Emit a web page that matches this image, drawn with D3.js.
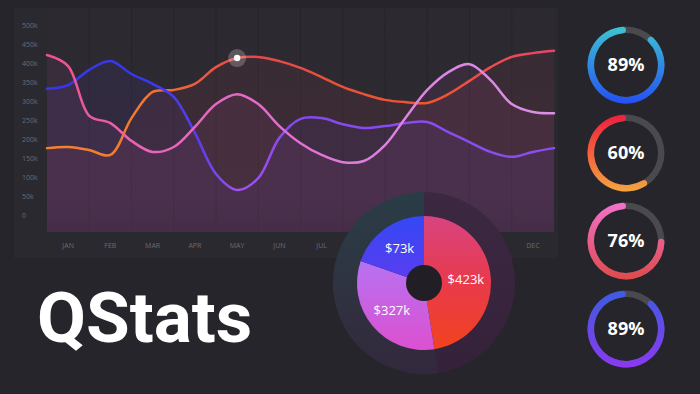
<!DOCTYPE html>
<html>
<head>
<meta charset="utf-8">
<script src="https://cdn.jsdelivr.net/npm/d3@7"></script>
<style>
  html, body { margin: 0; padding: 0; background: #26252b; }
  svg { display: block; }
</style>
</head>
<body>
<div id="chart"></div>
<script>
// months on the x axis
const months = ['JAN', 'FEB', 'MAR', 'APR', 'MAY', 'JUN', 'JUL', 'AUG', 'SEP', 'OCT', 'NOV', 'DEC'];
const yTicks = [0, 50, 100, 150, 200, 250, 300, 350, 400, 450, 500];

// series values (k), read every half month from the left edge to the right edge
const redValues = [176, 179, 171, 158, 255, 324, 329, 345, 389, 413, 416, 405, 387,
    363, 337, 318, 303, 297, 295, 318, 353, 389, 416, 426, 432];
const blueValues = [332, 342, 382, 405, 371, 345, 311, 216, 108, 66, 97, 203, 253,
    255, 239, 229, 234, 242, 245, 218, 192, 166, 153, 166, 176];
const pinkValues = [421, 392, 261, 242, 195, 166, 179, 232, 292, 318, 292, 234, 189,
    158, 139, 142, 184, 258, 329, 376, 397, 355, 292, 271, 268];
const markerIndex = 9; // highlighted point on the red series (MAY)

// donut
const pieLabels = ['$423k', '$327k', '$73k'];
const pieShares = [47.5, 32.8, 19.7];

// gauges
const gaugeValues = [89, 60, 76, 89];

const width = 700;
const height = 394;
const plot = { left: 47, right: 554, top: 8, bottom: 232 };

const svg = d3.select('#chart').append('svg')
    .attr('width', width)
    .attr('height', height);

const defs = svg.append('defs');

function linearGrad(id, stops, vertical, box) {
    const g = defs.append('linearGradient').attr('id', id);
    if (box) {
        g.attr('gradientUnits', 'userSpaceOnUse')
            .attr('x1', box[0]).attr('y1', box[1]).attr('x2', box[2]).attr('y2', box[3]);
    } else if (vertical) {
        g.attr('x1', 0).attr('y1', 0).attr('x2', 0).attr('y2', 1);
    }
    stops.forEach(s => g.append('stop').attr('offset', s[0]).attr('stop-color', s[1]));
    return `url(#${id})`;
}

// background panel
svg.append('rect')
    .attr('x', 14).attr('y', 8)
    .attr('width', 544).attr('height', 250)
    .attr('fill', '#2a292f');

svg.append('rect')
    .attr('x', plot.left).attr('y', plot.top)
    .attr('width', plot.right - plot.left).attr('height', plot.bottom - plot.top)
    .attr('fill', linearGrad('plotBg', [[0, '#2c2930'], [0.85, '#2e2a32'], [1, '#29262d']], true));

// scales
const xBand = d3.scaleBand()
    .domain(months)
    .range([plot.left, plot.right]);

const x = d3.scaleLinear()
    .domain([0, months.length])
    .range([plot.left, plot.right]);

const y = d3.scaleLinear()
    .domain([0, 500])
    .range([215, 25]);

// vertical grid at band edges
svg.append('g')
    .selectAll('line')
    .data(months.slice(1))
    .enter().append('line')
    .attr('x1', d => xBand(d)).attr('x2', d => xBand(d))
    .attr('y1', plot.top).attr('y2', plot.bottom)
    .attr('stroke', 'rgba(0,0,0,0.14)');

// y labels
svg.append('g')
    .selectAll('text')
    .data(yTicks)
    .enter().append('text')
    .attr('x', 22)
    .attr('y', d => y(d) + 2.5)
    .attr('fill', '#6d6971')
    .style('font-family', 'Open Sans')
    .style('font-size', '7px')
    .text(d => d === 0 ? '0' : d + 'k');

// x axis labels
const xAxis = svg.append('g')
    .attr('transform', `translate(0, 243)`)
    .call(d3.axisBottom(xBand).tickSize(0).tickPadding(0));
xAxis.select('.domain').remove();
xAxis.selectAll('text')
    .attr('fill', '#6d6971')
    .style('font-family', 'Open Sans')
    .style('font-size', '7px');

// series
const series = [
    { name: 'red', values: redValues, fill: '#e84a5a',
      stops: [[0, '#f0842c'], [0.18, '#f07a30'], [0.3, '#ec5a3e'], [0.4, '#e2484e'], [0.6, '#ea5238'], [0.75, '#f0552e'], [1, '#e8456a']] },
    { name: 'blue', values: blueValues, fill: '#6a48f0',
      stops: [[0, '#3636f4'], [0.2, '#3838f2'], [0.3, '#5a3ef0'], [0.38, '#a452f0'], [0.48, '#8648f0'], [1, '#8a4ef0']] },
    { name: 'pink', values: pinkValues, fill: '#e060c8',
      stops: [[0, '#f0508a'], [0.2, '#e866b8'], [0.4, '#e468c8'], [0.7, '#dc84e2'], [1, '#d890e6']] }
];

const curve = d3.curveCatmullRom.alpha(0.5);

const line = d3.line()
    .x((d, i) => x(i / 2))
    .y(d => y(d))
    .curve(curve);

const area = d3.area()
    .x((d, i) => x(i / 2))
    .y0(plot.bottom)
    .y1(d => y(d))
    .curve(curve);

series.forEach(s => {
    svg.append('path')
        .datum(s.values)
        .attr('d', area)
        .attr('fill', s.fill)
        .attr('opacity', 0.075);
});

series.forEach(s => {
    const grad = linearGrad('line-' + s.name, s.stops, false, [plot.left, 0, plot.right, 0]);
    svg.append('path')
        .datum(s.values)
        .attr('d', line)
        .attr('fill', 'none')
        .attr('stroke', grad)
        .attr('stroke-width', 2.5)
        .attr('stroke-linecap', 'round');
});

// highlighted point
const mx = x(markerIndex / 2);
const my = y(redValues[markerIndex]);
svg.append('circle').attr('cx', mx).attr('cy', my).attr('r', 9)
    .attr('fill', 'rgba(255,255,255,0.22)');
svg.append('circle').attr('cx', mx).attr('cy', my).attr('r', 3.2)
    .attr('fill', '#ffffff');

// donut
const cx = 424, cy = 283;
const pie = d3.pie().sort(null).value(d => d)(pieShares);

const ringArc = d3.arc().innerRadius(66).outerRadius(91);
svg.append('path')
    .attr('transform', `translate(${cx},${cy})`)
    .attr('d', ringArc({ startAngle: pie[0].startAngle, endAngle: pie[0].endAngle }))
    .attr('fill', linearGrad('ringR', [[0, '#3c2841'], [1, '#35223a']], true));
svg.append('path')
    .attr('transform', `translate(${cx},${cy})`)
    .attr('d', ringArc({ startAngle: pie[0].endAngle, endAngle: 2 * Math.PI }))
    .attr('fill', linearGrad('ringL', [[0, '#2a3d47'], [0.45, '#2e3442'], [1, '#33283d']], true));

const sliceFills = [
    linearGrad('sliceRed', [[0, '#d84480'], [0.5, '#e83a4c'], [1, '#f2421e']], true),
    linearGrad('sliceMag', [[0, '#b672f2'], [1, '#dc50d0']], true),
    linearGrad('sliceBlue', [[0, '#3448f4'], [1, '#5c3cf0']], true)
];

const sliceArc = d3.arc().innerRadius(0).outerRadius(67);
const labelArc = d3.arc().innerRadius(42).outerRadius(42);

const donut = svg.append('g').attr('transform', `translate(${cx},${cy})`);
donut.selectAll('path')
    .data(pie)
    .enter().append('path')
    .attr('d', sliceArc)
    .attr('fill', (d, i) => sliceFills[i]);

donut.append('circle').attr('r', 18).attr('fill', '#211f25');

donut.selectAll('.pieLabel')
    .data(pie)
    .enter().append('text')
    .attr('class', 'pieLabel')
    .attr('transform', d => `translate(${labelArc.centroid(d)})`)
    .attr('dy', '0.35em')
    .attr('text-anchor', 'middle')
    .attr('fill', '#ffffff')
    .style('font-family', 'Open Sans')
    .style('font-size', '13px')
    .text((d, i) => pieLabels[i]);

// title
svg.append('text')
    .attr('x', 37)
    .attr('y', 342)
    .attr('fill', '#ffffff')
    .style('font-family', 'Roboto')
    .style('font-weight', 700)
    .style('font-size', '71px')
    .text('QStats');

// gauges
const gaugeColors = [
    ['#3cc4d2', '#2450f4'],
    ['#f01e3c', '#f4a440'],
    ['#f272cc', '#e04a4a'],
    ['#3c5ce2', '#8c38f2']
];
const gaugeTrack = d3.arc().innerRadius(32).outerRadius(38.5);
const gaugeArc = d3.arc().innerRadius(32).outerRadius(38.5).cornerRadius(3.25);

const gauges = svg.selectAll('.gauge')
    .data(gaugeValues)
    .enter().append('g')
    .attr('class', 'gauge')
    .attr('transform', (d, i) => `translate(626, ${65 + i * 88})`);

gauges.append('path')
    .attr('d', gaugeTrack({ startAngle: 0, endAngle: 2 * Math.PI }))
    .attr('fill', '#4a494e');

gauges.append('path')
    .attr('d', d => gaugeArc({ startAngle: (1 - d / 100) * 2 * Math.PI, endAngle: 2 * Math.PI }))
    .attr('fill', (d, i) => linearGrad('gauge' + i, [[0, gaugeColors[i][0]], [1, gaugeColors[i][1]]], true));

gauges.append('text')
    .attr('text-anchor', 'middle')
    .attr('dy', '0.36em')
    .attr('fill', '#ffffff')
    .style('font-family', 'Open Sans')
    .style('font-weight', 700)
    .style('font-size', '18px')
    .text(d => d + '%');
</script>
</body>
</html>
